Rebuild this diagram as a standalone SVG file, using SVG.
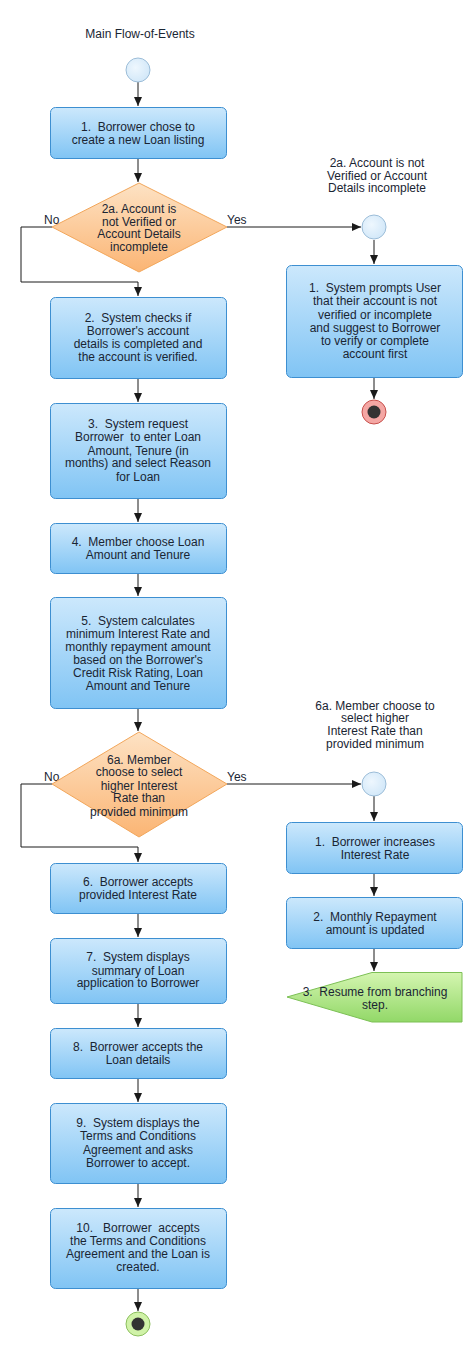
<svg xmlns="http://www.w3.org/2000/svg" width="466" height="1362" viewBox="0 0 466 1362" xml:space="preserve">
<defs>
<linearGradient id="gBox" x1="0" y1="0" x2="0" y2="1">
<stop offset="0" stop-color="#cce8fc"/>
<stop offset="1" stop-color="#80c4f4"/>
</linearGradient>
<linearGradient id="gDia" x1="0" y1="0" x2="0" y2="1">
<stop offset="0" stop-color="#fde2c4"/>
<stop offset="1" stop-color="#fbb574"/>
</linearGradient>
<linearGradient id="gGreen" x1="0" y1="0" x2="0" y2="1">
<stop offset="0" stop-color="#d4f5b0"/>
<stop offset="1" stop-color="#92d868"/>
</linearGradient>
<radialGradient id="gStart" cx="0.4" cy="0.4" r="0.7">
<stop offset="0" stop-color="#eef7fe"/>
<stop offset="1" stop-color="#cfe6f8"/>
</radialGradient>
<marker id="arr" markerWidth="10" markerHeight="10" refX="9" refY="4" orient="auto" markerUnits="userSpaceOnUse">
<path d="M0,0 L9,4 L0,8 Z" fill="#1a1a1a"/>
</marker>
</defs>
<style>
text{font-family:"Liberation Sans",Arial,sans-serif;font-size:12px;fill:#1a2533;text-anchor:middle;white-space:pre}
.box{fill:url(#gBox);stroke:#3d8fd1;stroke-width:1}
.dia{fill:url(#gDia);stroke:#f2a65a;stroke-width:1}
.start{fill:url(#gStart);stroke:#9cbdd8;stroke-width:1}
.conn{fill:none;stroke:#1a1a1a;stroke-width:1;marker-end:url(#arr)}
.lbl{text-anchor:start}
</style>
<rect width="466" height="1362" fill="#ffffff"/>
<text x="140" y="38">Main Flow-of-Events</text>
<g id="labelRight1">
<text x="377" y="167">2a. Account is not</text>
<text x="377" y="180">Verified or Account</text>
<text x="377" y="192">Details incomplete</text>
</g>
<g id="labelRight2">
<text x="375" y="710">6a. Member choose to</text>
<text x="375" y="722">select higher</text>
<text x="375" y="735">Interest Rate than</text>
<text x="375" y="748">provided minimum</text>
</g>
<g id="connectors">
<path class="conn" d="M138,82 V106"/>
<path class="conn" d="M138,158 V182"/>
<path class="conn" d="M52,227 H21 V282 H138 V296"/>
<path class="conn" d="M227,227 H361"/>
<path class="conn" d="M374,240 V264"/>
<path class="conn" d="M374,377 V399"/>
<path class="conn" d="M138,378 V402"/>
<path class="conn" d="M138,498 V522"/>
<path class="conn" d="M138,573 V596"/>
<path class="conn" d="M138,708 V731"/>
<path class="conn" d="M52,784 H21 V847 H138 V862"/>
<path class="conn" d="M227,784 H361"/>
<path class="conn" d="M374,796 V821"/>
<path class="conn" d="M374,873 V896"/>
<path class="conn" d="M374,948 V971"/>
<path class="conn" d="M138,913 V937"/>
<path class="conn" d="M138,1003 V1027"/>
<path class="conn" d="M138,1078 V1102"/>
<path class="conn" d="M138,1183 V1207"/>
<path class="conn" d="M138,1288 V1311"/>
</g>
<g id="edgeLabels">
<text class="lbl" x="44" y="224">No</text>
<text class="lbl" x="227" y="224">Yes</text>
<text class="lbl" x="44" y="781">No</text>
<text class="lbl" x="227" y="781">Yes</text>
</g>
<g id="start"><circle class="start" cx="138" cy="70" r="12"/></g>
<g id="step1">
<rect class="box" x="50.5" y="107.5" width="176" height="51" rx="5"/>
<text x="138" y="131">1.  Borrower chose to</text>
<text x="138" y="144">create a new Loan listing</text>
</g>
<g id="decision1">
<polygon class="dia" points="139,183 227,227 139,272 52,227"/>
<text x="139" y="213">2a. Account is</text>
<text x="139" y="226">not Verified or</text>
<text x="139" y="238">Account Details</text>
<text x="139" y="251">incomplete</text>
</g>
<g id="altStart1"><circle class="start" cx="374" cy="227" r="12"/></g>
<g id="alt1step1">
<rect class="box" x="286.5" y="265.5" width="176" height="112" rx="5"/>
<text x="375" y="292">1.  System prompts User</text>
<text x="375" y="305">that their account is not</text>
<text x="375" y="319">verified or incomplete</text>
<text x="375" y="332">and suggest to Borrower</text>
<text x="375" y="345">to verify or complete</text>
<text x="375" y="358">account first</text>
</g>
<g id="altEnd1">
<circle cx="374" cy="412" r="12" fill="#f4a7a4" stroke="#c7504c" stroke-width="1"/>
<circle cx="374" cy="412" r="6.5" fill="#333333"/>
</g>
<g id="step2">
<rect class="box" x="50.5" y="297.5" width="176" height="81" rx="5"/>
<text x="138" y="322">2.  System checks if</text>
<text x="138" y="335">Borrower's account</text>
<text x="138" y="348">details is completed and</text>
<text x="138" y="361">the account is verified.</text>
</g>
<g id="step3">
<rect class="box" x="50.5" y="403.5" width="176" height="95" rx="5"/>
<text x="138" y="428">3.  System request</text>
<text x="138" y="441">Borrower  to enter Loan</text>
<text x="138" y="455">Amount, Tenure (in</text>
<text x="138" y="467">months) and select Reason</text>
<text x="138" y="481">for Loan</text>
</g>
<g id="step4">
<rect class="box" x="50.5" y="523.5" width="176" height="50" rx="5"/>
<text x="138" y="546">4.  Member choose Loan</text>
<text x="138" y="559">Amount and Tenure</text>
</g>
<g id="step5">
<rect class="box" x="50.5" y="597.5" width="176" height="111" rx="5"/>
<text x="138" y="625">5.  System calculates</text>
<text x="138" y="638">minimum Interest Rate and</text>
<text x="138" y="651">monthly repayment amount</text>
<text x="138" y="664">based on the Borrower's</text>
<text x="138" y="677">Credit Risk Rating, Loan</text>
<text x="138" y="690">Amount and Tenure</text>
</g>
<g id="decision2">
<polygon class="dia" points="139,732 227,784 139,837 52,784"/>
<text x="139" y="764">6a. Member</text>
<text x="139" y="776">choose to select</text>
<text x="139" y="790">higher Interest</text>
<text x="139" y="802">Rate than</text>
<text x="139" y="816">provided minimum</text>
</g>
<g id="altStart2"><circle class="start" cx="374" cy="784" r="12"/></g>
<g id="alt2step1">
<rect class="box" x="286.5" y="822.5" width="176" height="51" rx="5"/>
<text x="375" y="846">1.  Borrower increases</text>
<text x="375" y="859">Interest Rate</text>
</g>
<g id="alt2step2">
<rect class="box" x="286.5" y="897.5" width="176" height="51" rx="5"/>
<text x="375" y="921">2.  Monthly Repayment</text>
<text x="375" y="934">amount is updated</text>
</g>
<g id="alt2step3">
<polygon points="287,997 372,972.5 462,972.5 462,1022 372,1022" fill="url(#gGreen)" stroke="#7cc055" stroke-width="1"/>
<text x="375" y="996">3.  Resume from branching</text>
<text x="375" y="1009">step.</text>
</g>
<g id="step6">
<rect class="box" x="50.5" y="863.5" width="176" height="50" rx="5"/>
<text x="138" y="886">6.  Borrower accepts</text>
<text x="138" y="899">provided Interest Rate</text>
</g>
<g id="step7">
<rect class="box" x="50.5" y="938.5" width="176" height="65" rx="5"/>
<text x="138" y="961">7.  System displays</text>
<text x="138" y="975">summary of Loan</text>
<text x="138" y="987">application to Borrower</text>
</g>
<g id="step8">
<rect class="box" x="50.5" y="1028.5" width="176" height="50" rx="5"/>
<text x="138" y="1051">8.  Borrower accepts the</text>
<text x="138" y="1064">Loan details</text>
</g>
<g id="step9">
<rect class="box" x="50.5" y="1103.5" width="176" height="80" rx="5"/>
<text x="138" y="1127">9.  System displays the</text>
<text x="138" y="1140">Terms and Conditions</text>
<text x="138" y="1154">Agreement and asks</text>
<text x="138" y="1167">Borrower to accept.</text>
</g>
<g id="step10">
<rect class="box" x="50.5" y="1208.5" width="176" height="80" rx="5"/>
<text x="138" y="1232">10.   Borrower  accepts</text>
<text x="138" y="1245">the Terms and Conditions</text>
<text x="138" y="1258">Agreement and the Loan is</text>
<text x="138" y="1271">created.</text>
</g>
<g id="end">
<circle cx="138" cy="1324" r="12" fill="#d0f2a8" stroke="#8cbf5e" stroke-width="1"/>
<circle cx="138" cy="1324" r="6.5" fill="#333333"/>
</g>
</svg>
